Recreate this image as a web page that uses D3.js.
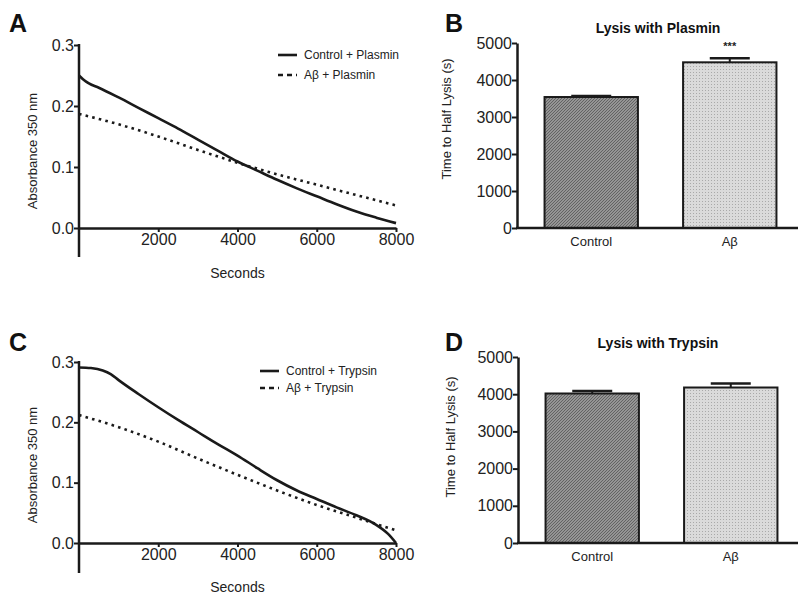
<!DOCTYPE html>
<html>
<head>
<meta charset="utf-8">
<script src="https://cdn.jsdelivr.net/npm/d3@7"></script>
<style>
  body { margin: 0; background: #fff; }
  svg { font-family: "Liberation Sans", Arial, sans-serif; }
</style>
</head>
<body>
<div id="chart"></div>
<script>
// ---- data ----
const seconds_A = [0, 100, 250, 500, 1000, 1500, 2000, 2500, 3000, 3500, 4000, 4500, 5000, 5500, 6000, 6500, 7000, 7500, 8000];
const control_A = [0.250, 0.244, 0.237, 0.230, 0.214, 0.197, 0.180, 0.163, 0.145, 0.127, 0.109, 0.094, 0.079, 0.065, 0.052, 0.039, 0.027, 0.017, 0.008];
const secondsDot_A = [0, 1000, 2000, 3000, 4000, 5000, 6000, 7000, 8000];
const abeta_A = [0.187, 0.170, 0.150, 0.128, 0.107, 0.088, 0.071, 0.054, 0.037];

const seconds_C = [0, 300, 600, 800, 1000, 1500, 2000, 2500, 3000, 3500, 4000, 4500, 5000, 5500, 6000, 6500, 7000, 7500, 7800, 8000];
const control_C = [0.291, 0.290, 0.286, 0.280, 0.270, 0.247, 0.225, 0.204, 0.184, 0.164, 0.145, 0.124, 0.104, 0.087, 0.073, 0.059, 0.046, 0.030, 0.015, 0.000];
const secondsDot_C = [0, 1000, 2000, 3000, 4000, 5000, 6000, 7000, 8000];
const abeta_C = [0.212, 0.192, 0.168, 0.140, 0.113, 0.087, 0.063, 0.042, 0.021];

const groups = ["Control", "Aβ"];
const plasminMean = [3540, 4478];
const plasminErr = [30, 108];
const trypsinMean = [4019, 4180];
const trypsinErr = [70, 107];

const absTicks = [0.0, 0.1, 0.2, 0.3];
const secTicks = [2000, 4000, 6000, 8000];
const timeTicks = [0, 1000, 2000, 3000, 4000, 5000];

const width = 798, height = 594;
const ink = "#1a1a1a";

const svg = d3.select("#chart").append("svg")
    .attr("width", width)
    .attr("height", height);

/*
PATTERNS FOR THE BARS
*/
const defs = svg.append("defs");
const pDark = defs.append("pattern")
    .attr("id", "hatchDark").attr("patternUnits", "userSpaceOnUse")
    .attr("width", 3).attr("height", 3);
pDark.append("rect").attr("width", 3).attr("height", 3).attr("fill", "#959595");
pDark.append("path").attr("d", "M0,3 L3,0").attr("stroke", "#5e5e5e").attr("stroke-width", 0.9);

const pLight = defs.append("pattern")
    .attr("id", "dotLight").attr("patternUnits", "userSpaceOnUse")
    .attr("width", 3).attr("height", 3);
pLight.append("rect").attr("width", 3).attr("height", 3).attr("fill", "#dadada");
pLight.append("rect").attr("width", 1).attr("height", 1).attr("fill", "#a9a9a9");

/*
LINE PANEL
*/
function linePanel(cfg) {
    const xScale = d3.scaleLinear().domain([0, 8000]).range([cfg.left, cfg.right]);
    const yScale = d3.scaleLinear().domain([0, 0.3]).range([cfg.bottom, cfg.top]);

    const g = svg.append("g");

    // axes
    const yAxis = g.append("g")
        .attr("transform", `translate(${cfg.left},0)`)
        .call(d3.axisLeft(yScale).tickValues(absTicks).tickFormat(d3.format(".1f")).tickSize(5).tickSizeOuter(0));
    yAxis.select(".domain").remove();
    g.append("line")
        .attr("x1", cfg.left).attr("x2", cfg.left)
        .attr("y1", cfg.top - 1).attr("y2", cfg.axisEnd)
        .attr("stroke", ink).attr("stroke-width", 2.5);

    const xAxis = g.append("g")
        .attr("transform", `translate(0,${cfg.bottom})`)
        .call(d3.axisBottom(xScale).tickValues(secTicks).tickFormat(d3.format("d")).tickSize(4).tickSizeOuter(0));
    xAxis.select(".domain").attr("stroke", ink).attr("stroke-width", 2.5);

    g.selectAll(".tick line").attr("stroke", ink).attr("stroke-width", 2);
    g.selectAll(".tick text").attr("fill", "#222").style("font-size", "16px");
    yAxis.selectAll(".tick text").attr("x", -5);
    xAxis.selectAll(".tick text").attr("y", 6);

    // axis labels
    g.append("text")
        .attr("x", (cfg.left + cfg.right) / 2)
        .attr("y", cfg.xLabelY)
        .attr("text-anchor", "middle")
        .attr("fill", "#222")
        .style("font-size", "14px")
        .text("Seconds");
    g.append("text")
        .attr("transform", `translate(${cfg.yLabelX},${cfg.yLabelY}) rotate(-90)`)
        .attr("text-anchor", "middle")
        .attr("fill", "#222")
        .style("font-size", "13px")
        .text("Absorbance 350 nm");

    // lines
    const line = d3.line()
        .x(function(d) { return xScale(d[0]); })
        .y(function(d) { return yScale(d[1]); })
        .curve(d3.curveMonotoneX);

    g.append("path")
        .datum(d3.zip(cfg.xs, cfg.solid))
        .attr("d", line)
        .attr("fill", "none")
        .attr("stroke", ink)
        .attr("stroke-width", 2.6);

    g.append("path")
        .datum(d3.zip(cfg.xsDot, cfg.dotted))
        .attr("d", line)
        .attr("fill", "none")
        .attr("stroke", ink)
        .attr("stroke-width", 2.6)
        .attr("stroke-dasharray", "2.6,4.2");

    // legend
    const leg = g.append("g");
    cfg.legend.forEach(function(txt, i) {
        const ly = cfg.legendY + i * cfg.legendGap;
        leg.append("line")
            .attr("x1", cfg.legendX).attr("x2", cfg.legendX + 19)
            .attr("y1", ly).attr("y2", ly)
            .attr("stroke", ink).attr("stroke-width", 2.6)
            .attr("stroke-dasharray", i === 0 ? null : "5,4");
        leg.append("text")
            .attr("x", cfg.legendX + 26)
            .attr("y", ly + 4)
            .attr("fill", "#222")
            .style("font-size", "12px")
            .text(txt);
    });

    // panel letter
    g.append("text")
        .attr("x", cfg.letterX).attr("y", cfg.letterY)
        .style("font-size", "25px").style("font-weight", "bold")
        .attr("fill", "#111")
        .text(cfg.letter);
}

/*
BAR PANEL
*/
function barPanel(cfg) {
    const xScale = d3.scaleBand().domain(groups)
        .range([cfg.left + 4, cfg.left + 283])
        .paddingInner(0.326).paddingOuter(0.17);
    const yScale = d3.scaleLinear().domain([0, 5000]).range([cfg.bottom, cfg.top]);

    const g = svg.append("g");
    const rows = groups.map(function(k, i) { return {group: k, mean: cfg.mean[i], err: cfg.err[i]}; });

    // bars
    g.selectAll("rect.bar")
        .data(rows)
        .enter()
        .append("rect")
            .attr("class", "bar")
            .attr("x", function(d) { return xScale(d.group); })
            .attr("y", function(d) { return yScale(d.mean); })
            .attr("width", xScale.bandwidth())
            .attr("height", function(d) { return yScale(0) - yScale(d.mean); })
            .attr("fill", function(d, i) { return i === 0 ? "url(#hatchDark)" : "url(#dotLight)"; })
            .attr("stroke", ink)
            .attr("stroke-width", 2);

    // error bars
    const cap = 20;
    rows.forEach(function(d) {
        const cx = xScale(d.group) + xScale.bandwidth() / 2;
        g.append("line")
            .attr("x1", cx).attr("x2", cx)
            .attr("y1", yScale(d.mean)).attr("y2", yScale(d.mean + d.err))
            .attr("stroke", ink).attr("stroke-width", 2);
        g.append("line")
            .attr("x1", cx - cap).attr("x2", cx + cap)
            .attr("y1", yScale(d.mean + d.err)).attr("y2", yScale(d.mean + d.err))
            .attr("stroke", ink).attr("stroke-width", 2.5);
    });

    // axes
    const yAxis = g.append("g")
        .attr("transform", `translate(${cfg.left},0)`)
        .call(d3.axisLeft(yScale).tickValues(timeTicks).tickFormat(d3.format("d")).tickSize(5).tickSizeOuter(0));
    yAxis.select(".domain").attr("stroke", ink).attr("stroke-width", 2.5);

    const xAxis = g.append("g")
        .attr("transform", `translate(0,${cfg.bottom})`)
        .call(d3.axisBottom(xScale).tickSize(0));
    xAxis.select(".domain").remove();
    g.append("line")
        .attr("x1", cfg.left - 1).attr("x2", width)
        .attr("y1", cfg.bottom).attr("y2", cfg.bottom)
        .attr("stroke", ink).attr("stroke-width", 2.5);

    yAxis.selectAll(".tick line").attr("stroke", ink).attr("stroke-width", 2);
    yAxis.selectAll(".tick text").attr("fill", "#222").attr("x", -5).style("font-size", "16px");
    xAxis.selectAll(".tick text").attr("fill", "#222").attr("y", 9).style("font-size", "13px");

    // y label
    g.append("text")
        .attr("transform", `translate(${cfg.yLabelX},${cfg.yLabelY}) rotate(-90)`)
        .attr("text-anchor", "middle")
        .attr("fill", "#222")
        .style("font-size", "13px")
        .text("Time to Half Lysis (s)");

    // title
    g.append("text")
        .attr("x", 658).attr("y", cfg.titleY)
        .attr("text-anchor", "middle")
        .attr("fill", "#111")
        .style("font-size", "14px").style("font-weight", "bold")
        .text(cfg.title);

    // significance
    if (cfg.stars) {
        g.append("text")
            .attr("x", xScale("Aβ") + xScale.bandwidth() / 2)
            .attr("y", yScale(cfg.mean[1] + cfg.err[1]) - 8)
            .attr("text-anchor", "middle")
            .attr("fill", "#222")
            .style("font-size", "11px").style("font-weight", "bold")
            .text(cfg.stars);
    }

    g.append("text")
        .attr("x", cfg.letterX).attr("y", cfg.letterY)
        .style("font-size", "25px").style("font-weight", "bold")
        .attr("fill", "#111")
        .text(cfg.letter);
}

linePanel({
    letter: "A", letterX: 9, letterY: 32,
    left: 79, right: 396, top: 45, bottom: 228, axisEnd: 257,
    xLabelY: 278, yLabelX: 37, yLabelY: 151,
    xs: seconds_A, solid: control_A, xsDot: secondsDot_A, dotted: abeta_A,
    legend: ["Control + Plasmin", "Aβ + Plasmin"], legendX: 278, legendY: 55, legendGap: 20
});

linePanel({
    letter: "C", letterX: 9, letterY: 351,
    left: 79, right: 396, top: 362, bottom: 543, axisEnd: 573,
    xLabelY: 592, yLabelX: 37, yLabelY: 465,
    xs: seconds_C, solid: control_C, xsDot: secondsDot_C, dotted: abeta_C,
    legend: ["Control + Trypsin", "Aβ + Trypsin"], legendX: 260, legendY: 371, legendGap: 17
});

barPanel({
    letter: "B", letterX: 445, letterY: 32,
    left: 517, top: 43, bottom: 228,
    yLabelX: 451, yLabelY: 119, titleY: 33,
    title: "Lysis with Plasmin", mean: plasminMean, err: plasminErr, stars: "***"
});

barPanel({
    letter: "D", letterX: 445, letterY: 351,
    left: 518, top: 357, bottom: 543,
    yLabelX: 455, yLabelY: 437, titleY: 348,
    title: "Lysis with Trypsin", mean: trypsinMean, err: trypsinErr, stars: null
});
</script>
</body>
</html>
